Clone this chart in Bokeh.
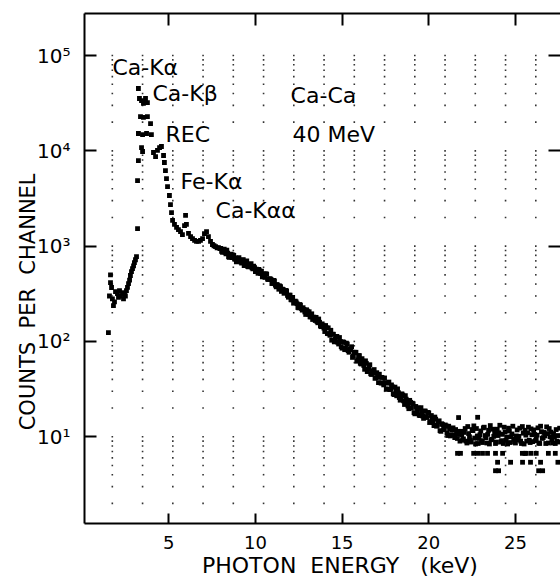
from bokeh.plotting import figure
from bokeh.models import (ColumnDataSource, FixedTicker, LinearAxis, LogAxis,
                          Label, CustomJSTickFormatter)
from bokeh.embed import file_html
from bokeh.resources import INLINE

# ---------------- data ----------------
# low-energy part of the spectrum (keV, counts per channel)
low_kev = [1.52, 1.58, 1.64, 1.64, 1.70, 1.75, 1.81, 1.87, 1.93, 2.04,
           2.10, 2.16, 2.22, 2.33, 2.39, 2.45, 2.50, 2.56, 2.62, 2.68,
           2.74, 2.79, 2.85, 2.91, 2.97, 3.02, 3.08, 3.14, 3.20, 3.20,
           3.25, 3.25, 3.31, 3.43, 3.54, 3.66, 3.77, 3.37, 3.54, 3.77,
           3.95, 3.25, 3.49, 3.72, 4.00, 3.43, 3.49, 4.12, 4.24, 4.35,
           4.47, 4.58, 4.70, 4.75, 4.81, 4.87, 4.93, 5.04, 5.10, 5.16,
           5.22, 5.33, 5.45, 5.56, 5.68, 5.79, 5.91, 5.97, 6.02, 6.14,
           6.26, 6.37, 6.49, 6.60, 6.72, 6.83, 6.95, 7.06, 7.18, 7.29,
           7.41, 7.52, 7.61, 7.70, 7.79, 7.87, 7.95]
low_counts = [124, 300, 415, 500, 368, 280, 238, 260, 334, 318,
              290, 342, 300, 326, 280, 318, 300, 342, 370, 405,
              440, 492, 540, 582, 620, 673, 720, 778, 1530, 4880,
              7900, 45100, 35400, 33700, 31400, 35400, 32100, 22900, 22400, 22900,
              19300, 15200, 14800, 15200, 14800, 10800, 9840, 9600, 8710, 10100,
              10800, 11100, 8930, 7540, 6210, 5120, 4220, 3400, 2730, 2250,
              1860, 1690, 1570, 1490, 1420, 1320, 1640, 2100, 1690, 1360,
              1260, 1200, 1150, 1120, 1120, 1150, 1200, 1350, 1420, 1260,
              1120, 1040, 1010, 990, 960, 965, 940]

# continuum, channels every 0.1 keV from 8.0 to 27.0 keV
band_kev = [round(8.0 + 0.1 * i, 2) for i in range(191)]
band_counts = [
    948, 859, 932, 831, 842, 762, 823, 807, 737, 684,
    743, 706, 664, 720, 658, 698, 606, 640, 593, 617,
    541, 566, 570, 516, 476, 512, 512, 450, 453, 447,
    410, 432, 374, 385, 383, 335, 351, 327, 339, 291,
    306, 273, 252, 265, 249, 225, 241, 213, 217, 192,
    208, 205, 181, 170, 179, 179, 157, 159, 143, 148,
    127, 139, 139, 116, 103, 119, 105, 113, 94, 100,
    85, 98, 85, 94, 77, 82, 68, 77, 77, 64,
    71, 58, 62, 51, 59, 51, 57, 45, 47, 41,
    47, 37, 42, 42, 35, 37, 31.5, 37.5, 31.4, 33.4,
    27.7, 30.3, 31.8, 25.8, 25.9, 27.4, 21.8, 24.8, 21.0, 24.1,
    20.0, 22.2, 17.4, 20.1, 20.0, 16.7, 18.1, 15.6, 18.6, 15.9,
    17.8, 14.4, 15.6, 13.1, 15.3, 13.2, 14.7, 11.4, 13.4, 12.0,
    13.0, 10.3, 12.0, 10.5, 12.4, 9.8, 10.8, 11.4, 9.0, 10.4,
    9.5, 12.2, 8.6, 10.8, 9.2, 11.9, 13.0, 8.4, 10.2, 9.6,
    11.5, 8.7, 12.6, 9.8, 10.6, 8.4, 9.3, 12.0, 10.9, 8.8,
    10.3, 13.2, 9.1, 8.5, 11.2, 9.9, 12.3, 8.7, 10.7, 9.4,
    8.6, 11.8, 10.1, 9.0, 12.8, 8.4, 10.4, 11.0, 9.2, 12.1,
    8.9, 10.6, 9.5, 12.4, 8.5, 11.3, 9.8, 10.2, 12.7, 8.6,
    10.0]

# interleaved channels, 8.05 to 26.95 keV
band2_kev = [round(8.05 + 0.1 * i, 2) for i in range(190)]
band2_counts = [
    880, 919, 859, 905, 774, 817, 757, 799, 751, 693,
    757, 685, 713, 625, 679, 613, 639, 656, 578, 596,
    574, 519, 551, 546, 495, 470, 509, 447, 455, 405,
    437, 389, 396, 353, 376, 354, 320, 343, 304, 306,
    274, 290, 258, 260, 227, 244, 222, 226, 204, 215,
    193, 181, 195, 180, 166, 162, 172, 145, 153, 138,
    147, 121, 120, 131, 119, 99, 112, 98, 110, 88,
    99, 82, 96, 80, 84, 88, 70, 76, 62, 71,
    59, 66, 56, 62.6, 48.3, 54.3, 45.8, 49.3, 50.7, 41.7,
    44.9, 45.3, 36.5, 36.8, 41.4, 31.8, 36.5, 31.3, 35.0, 28.2,
    33.2, 26.9, 29.0, 24.2, 28.2, 23.8, 27.0, 22.5, 19.7, 23.0,
    22.5, 17.9, 20.8, 18.2, 16.8, 20.2, 16.5, 18.6, 16.3, 18.0,
    14.1, 16.7, 14.2, 16.1, 12.9, 14.4, 11.6, 13.7, 11.9, 13.3,
    10.9, 12.9, 10.2, 11.8, 10.4, 11.9, 9.6, 10.7, 11.4, 9.2,
    11.1, 9.0, 12.8, 10.0, 8.8, 11.6, 9.7, 12.2, 8.5, 10.5,
    9.1, 12.4, 10.3, 8.6, 11.7, 13.1, 9.4, 10.1, 8.5, 12.0,
    11.0, 8.8, 10.6, 12.6, 9.2, 8.4, 11.5, 10.0, 12.9, 8.9,
    10.2, 9.3, 12.3, 8.5, 10.9, 11.7, 9.0, 12.6, 8.7, 10.5,
    11.8, 9.1, 10.4, 8.6, 12.9, 9.6, 11.1, 8.5, 10.8, 12.2]

# scattered low / high channels at high energy
extra_kev = [21.66, 21.83, 22.59, 22.82, 23.10, 23.39, 23.85, 24.26, 25.40, 25.55,
             25.62, 25.90, 26.20, 26.90, 23.97, 24.72, 25.41, 25.87, 26.45, 23.85,
             24.03, 26.34, 26.57, 21.72, 22.82,
             27.05, 27.10, 27.15, 27.20, 27.25, 27.30, 27.35, 27.40, 27.45, 27.50,
             27.55, 27.30, 27.45]
extra_counts = [6.7, 6.7, 6.7, 6.7, 6.7, 6.7, 6.7, 6.7, 6.7, 6.7,
                6.7, 6.7, 6.7, 6.7, 5.4, 5.4, 5.4, 5.4, 5.4, 4.4,
                4.4, 4.4, 4.4, 15.9, 16.0,
                11.2, 9.3, 8.6, 10.8, 9.9, 8.5, 11.9, 9.0, 10.3, 8.8,
                12.3, 6.7, 5.4]

# dotted display grid: channel markers and log levels
grid_kev = [1.745 * j for j in range(1, 16)]
grid_levels = [k * 10.0 ** n for n in range(0, 5) for k in range(2, 11)]

x_ticks = [5, 10, 15, 20, 25]
y_ticks = [10, 100, 1000, 10000, 100000]
y_tick_labels = {10: "10\u00b9", 100: "10\u00b2", 1000: "10\u00b3",
                 10000: "10\u2074", 100000: "10\u2075"}

FONT = "DejaVu Sans"
NB = "\u00a0"

# ---------------- figure ----------------
p = figure(width=560, height=583, x_range=(0.14, 27.6), y_range=(1.23, 2.76e5),
           y_axis_type="log", output_backend="svg", toolbar_location=None,
           min_border_left=84, min_border_right=0, min_border_top=13,
           min_border_bottom=60)
p.outline_line_color = None
p.grid.visible = False
p.background_fill_color = "white"
p.border_fill_color = "white"

# grid dots
gx, gy = [], []
for xv in grid_kev:
    for yv in grid_levels:
        gx.append(xv)
        gy.append(yv)
p.scatter(gx, gy, marker="square", size=1.6, color="#333333", line_color=None)

# spectrum
src = ColumnDataSource(dict(x=low_kev + band_kev + band2_kev + extra_kev,
                            y=low_counts + band_counts + band2_counts + extra_counts))
p.scatter("x", "y", source=src, marker="square", size=4.8, color="black",
          line_color=None)

# axes
xa = p.xaxis[0]
xa.ticker = FixedTicker(ticks=x_ticks)
xa.major_tick_in = 10
xa.major_tick_out = 0
xa.minor_tick_line_color = None
xa.axis_line_width = 2
xa.major_tick_line_width = 2
xa.major_label_text_font = FONT
xa.major_label_text_font_size = "18px"
xa.major_label_text_color = "black"
xa.major_label_standoff = 12
xa.axis_label = NB * 5 + "PHOTON" + NB * 2 + "ENERGY" + NB * 3 + "(keV)"
xa.axis_label_text_font = FONT
xa.axis_label_text_font_size = "22px"
xa.axis_label_text_font_style = "normal"
xa.axis_label_text_color = "black"
xa.axis_label_standoff = 1

ya = p.yaxis[0]
ya.ticker = FixedTicker(ticks=y_ticks, minor_ticks=[])
ya.major_label_overrides = y_tick_labels
ya.major_tick_in = 12
ya.major_tick_out = 0
ya.minor_tick_line_color = None
ya.axis_line_width = 2
ya.major_tick_line_width = 2
ya.major_label_text_font = FONT
ya.major_label_text_font_size = "20px"
ya.major_label_text_color = "black"
ya.major_label_standoff = 14
ya.axis_label = "COUNTS" + NB * 2 + "PER" + NB * 2 + "CHANNEL" + NB * 10
ya.axis_label_text_font = FONT
ya.axis_label_text_font_size = "21px"
ya.axis_label_text_font_style = "normal"
ya.axis_label_text_color = "black"
ya.axis_label_standoff = -6

blank = CustomJSTickFormatter(code="return ''")
top = LinearAxis(ticker=FixedTicker(ticks=x_ticks), formatter=blank,
                 major_tick_in=12, major_tick_out=0, minor_tick_line_color=None,
                 axis_line_width=2, major_tick_line_width=2,
                 major_label_text_font_size="1px", major_label_standoff=0)
p.add_layout(top, "above")
right = LogAxis(ticker=FixedTicker(ticks=y_ticks, minor_ticks=[]), formatter=blank,
                major_tick_in=12, major_tick_out=0, minor_tick_line_color=None,
                axis_line_color=None, major_tick_line_width=2,
                major_label_text_font_size="1px", major_label_standoff=0)
p.add_layout(right, "right")

# annotations
notes = [("Ca-K\u03b1", 1.75, 75700), ("Ca-K\u03b2", 4.06, 39500),
         ("REC", 4.81, 15000), ("Fe-K\u03b1", 5.68, 4710),
         ("Ca-K\u03b1\u03b1", 7.70, 2370), ("Ca-Ca", 12.03, 38000),
         ("40 MeV", 12.14, 15000)]
for t, xv, yv in notes:
    p.add_layout(Label(x=xv, y=yv, text=t, text_font=FONT, text_font_size="22px",
                       text_baseline="middle", text_align="left",
                       text_color="black"))

open("out.html", "w").write(file_html(p, INLINE))
